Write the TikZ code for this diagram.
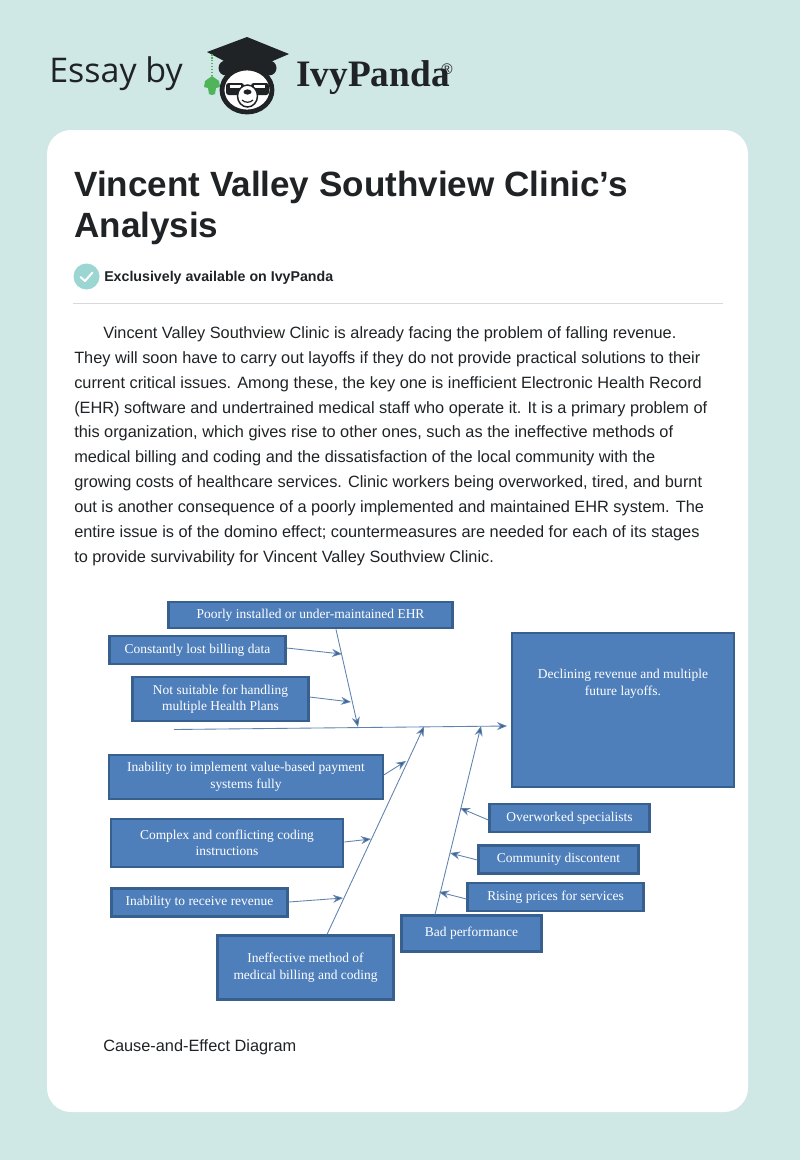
\documentclass[tikz,border=0pt]{standalone}
\usepackage{fontspec}
\usetikzlibrary{arrows.meta}
\setmainfont{Liberation Sans}
\newfontfamily\dserif{Liberation Serif}
\newfontfamily\essayfont{Open Sans}
\definecolor{pagebg}{HTML}{CFE8E6}
\definecolor{ink}{HTML}{1F2326}
\definecolor{boxfill}{HTML}{4F7FBB}
\definecolor{boxline}{HTML}{38608F}
\definecolor{linkc}{HTML}{5F83AE}
\definecolor{checkc}{HTML}{9BD6D2}
\definecolor{leafc}{HTML}{4FB45A}
\tikzset{
  x=0.75pt,y=-0.75pt,
  fishbox/.style={draw=boxline,line width=1.6pt,fill=boxfill,text=white,inner sep=0pt,align=center,
    font=\dserif\fontsize{10.1pt}{12.4pt}\selectfont},
  bodyline/.style={anchor=base west,inner sep=0pt,text=ink,font=\fontsize{12.25pt}{14pt}\selectfont},
  titleline/.style={anchor=base west,inner sep=0pt,text=ink,font=\bfseries\fontsize{26.3pt}{30pt}\selectfont},
  link/.style={draw=linkc,line width=0.65pt,-{Stealth[length=7.5pt,width=6pt,fill=boxline]}},
}
\begin{document}
\begin{tikzpicture}
\useasboundingbox (0,0) rectangle (800,1160);
\fill[pagebg] (0,0) rectangle (800,1160);
\fill[white,rounded corners=18pt] (47,130) rectangle (748,1112);

% header
\node[anchor=base west,inner sep=0pt,text=ink,font=\essayfont\fontsize{25.5pt}{28pt}\selectfont] (essay) at (49,82) {Essay by};
\node[anchor=base west,inner sep=0pt,text=ink,font=\dserif\bfseries\fontsize{28pt}{30pt}\selectfont] (brand) at (296,86) {IvyPanda};
\node[anchor=base west,inner sep=0pt,text=ink,font=\fontsize{11.5pt}{12pt}\selectfont] (reg) at (441,74) {®};

% logo
\fill[ink] (247,37) -- (289,54) -- (268,63) -- (268,72) -- (226,72) -- (226,62) -- (207,52) -- cycle;
\draw[ink,line width=3.6pt,fill=white] (247,90) ellipse (25 and 22);
\fill[ink] (226,68) circle (7.5);
\fill[ink] (269,68) circle (7.5);
\fill[ink] (226,62) -- (268,62) -- (266,70) .. controls (255,64) and (238,64) .. (228,70) -- cycle;
\fill[ink,rounded corners=2pt] (226,83) rectangle (244,95);
\fill[ink,rounded corners=2pt] (251,83) rectangle (269,95);
\fill[white] (230,85) rectangle (241,88);
\fill[white] (254,85) rectangle (265,88);
\draw[ink,line width=1.1pt,fill=white] (247.5,96) ellipse (10 and 11);
\fill[ink] (247.5,92) ellipse (4 and 2.6);
\draw[ink,line width=0.9pt] (242,100) .. controls (245,103) and (250,103) .. (253,100);
\draw[leafc,line width=1.2pt,densely dotted] (212,54) -- (212,78);
\fill[leafc] (212,76) -- (219,81) -- (220,87) -- (216,88) -- (215,94) -- (212,95) -- (209,94) -- (208,88) -- (204,87) -- (205,81) -- cycle;

% title
\node[titleline] (t1) at (74,196) {Vincent Valley Southview Clinic's};
\node[titleline] (t2) at (74,237) {Analysis};

% exclusively
\fill[checkc] (86.5,276.5) circle (13);
\draw[white,line width=1.5pt,line cap=round,line join=round] (80.5,277) -- (85,281) -- (92.5,272.5);
\node[anchor=base west,inner sep=0pt,text=ink,font=\bfseries\fontsize{10.65pt}{12pt}\selectfont] (excl) at (104,281) {Exclusively available on IvyPanda};
\draw[draw=black!15,line width=0.9pt] (73,303.5) -- (723,303.5);

% body
\node[bodyline] (b1) at (103,338) {Vincent Valley Southview Clinic is already facing the problem of falling revenue.};
\node[bodyline] (b2) at (74,363) {They will soon have to carry out layoffs if they do not provide practical solutions to their};
\node[bodyline] (b3) at (74,388) {current critical issues. Among these, the key one is inefficient Electronic Health Record};
\node[bodyline] (b4) at (74,413) {(EHR) software and undertrained medical staff who operate it. It is a primary problem of};
\node[bodyline] (b5) at (74,437) {this organization, which gives rise to other ones, such as the ineffective methods of};
\node[bodyline] (b6) at (74,462) {medical billing and coding and the dissatisfaction of the local community with the};
\node[bodyline] (b7) at (74,487) {growing costs of healthcare services. Clinic workers being overworked, tired, and burnt};
\node[bodyline] (b8) at (74,512) {out is another consequence of a poorly implemented and maintained EHR system. The};
\node[bodyline] (b9) at (74,537) {entire issue is of the domino effect; countermeasures are needed for each of its stages};
\node[bodyline] (b10) at (74,562) {to provide survivability for Vincent Valley Southview Clinic.};

% boxes
\node[fishbox,minimum width=213pt,minimum height=20pt] (ehr) at (310.5,615) {Poorly installed or under-maintained EHR};
\node[fishbox,minimum width=132pt,minimum height=21.5pt] (lost) at (197.5,650) {Constantly lost billing data};
\node[fishbox,minimum width=132pt,minimum height=33.5pt] (plans) at (220.5,699) {Not suitable for handling\\multiple Health Plans};
\node[fishbox,minimum width=205pt,minimum height=33.5pt] (value) at (246,777) {Inability to implement value-based payment\\systems fully};
\node[fishbox,minimum width=174.5pt,minimum height=36.5pt] (coding) at (227,843) {Complex and conflicting coding\\instructions};
\node[fishbox,minimum width=132pt,minimum height=21pt] (receive) at (199.5,902.5) {Inability to receive revenue};
\node[fishbox,minimum width=132pt,minimum height=48pt] (method) at (305.5,967.5) {Ineffective method of\\medical billing and coding};
\node[fishbox,minimum width=105pt,minimum height=27pt] (bad) at (471.5,933.5) {Bad performance};
\node[fishbox,minimum width=132pt,minimum height=21.5pt] (rising) at (555.5,897) {Rising prices for services};
\node[fishbox,minimum width=120pt,minimum height=21pt] (community) at (558.5,859.5) {Community discontent};
\node[fishbox,minimum width=120pt,minimum height=21.5pt] (over) at (569.5,818) {Overworked specialists};
\node[fishbox,minimum width=167pt,minimum height=116pt] (effect) at (623,710) {Declining revenue and multiple\\future layoffs.\\[29pt]\mbox{}};

% connector points
\coordinate (tail) at (174,729.5);
\coordinate (j1) at (358,727);
\coordinate (j2) at (424,726.5);
\coordinate (j3) at (481,726);
\coordinate (h1) at (342,654);
\coordinate (h2) at (351,702);
\coordinate (h3) at (406,761);
\coordinate (h4) at (371,839);
\coordinate (h5) at (343,898);
\coordinate (h6) at (460,808);
\coordinate (h7) at (450,853);
\coordinate (h8) at (439,892);
\coordinate (headin) at (507,726);

% connectors
\draw[link] (tail) -- (headin);
\draw[link] (ehr.south -| 336,0) -- (j1);
\draw[link] (method.north -| 327,0) -- (j2);
\draw[link] (bad.north -| 435,0) -- (j3);
\draw[link] (lost.east |- 0,648) -- (h1);
\draw[link] (plans.east |- 0,697) -- (h2);
\draw[link] (value.east |- 0,775) -- (h3);
\draw[link] (coding.east |- 0,842) -- (h4);
\draw[link] (receive.east |- 0,902) -- (h5);
\draw[link] (over.west |- 0,820) -- (h6);
\draw[link] (community.west |- 0,860) -- (h7);
\draw[link] (rising.west |- 0,899) -- (h8);

% caption
\node[bodyline] (cap) at (103,1051) {Cause-and-Effect Diagram};
\end{tikzpicture}
\end{document}
